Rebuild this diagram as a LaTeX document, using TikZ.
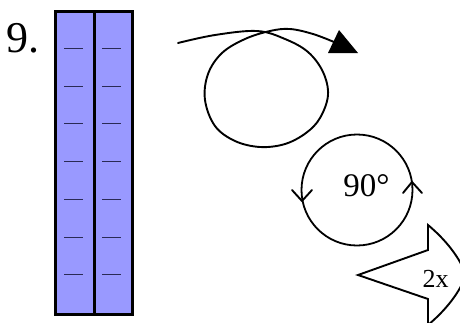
\documentclass[tikz,border=0pt]{standalone}
\usepackage{fontspec}
\setmainfont{Liberation Serif}
\definecolor{barfill}{HTML}{9999FF}
\definecolor{tickcol}{HTML}{2A2A55}
\begin{document}
\begin{tikzpicture}[x=1pt,y=-1pt,
  outline/.style={line width=3pt,line join=miter},
  tickline/.style={line width=1pt,draw=tickcol},
  thinline/.style={line width=1.9pt,line cap=round,line join=round},
  lbl/.style={inner sep=0pt,outer sep=0pt}]
\useasboundingbox (0,0) rectangle (460,322);
\clip (0,0) rectangle (460,322);
% number
\node[lbl,anchor=base west] (num) at (6,52) {\fontsize{44}{44}\selectfont 9.};
% bar
\node[draw,outline,fill=barfill,minimum width=77pt,minimum height=303pt,inner sep=0pt,anchor=north west] (bar) at (54,10) {};
\draw[outline] (bar.north) -- (bar.south);
\foreach \y in {48,86,123,161,199,237,274}{
  \draw[tickline] (64,\y) -- (83,\y);
  \draw[tickline] (102,\y) -- (121,\y);
}
% loop curve
\draw[thinline] plot[smooth,tension=0.6] coordinates {
 (178,43) (215,35) (257,31) (285,39) (308,52) (323,72) (328,95) (320,118) (306,133) (285,144) (260,147)
 (235,141) (215,126) (205,100) (208,74) (222,53) (245,39) (270,31) (290,29) (313,34) (334,42)};
\fill (358,53) -- (339,30) -- (328,53) -- cycle;
% rotation circle
\node[draw,circle,line width=1.8pt,minimum size=111pt,inner sep=0pt] (rot) at (357,190) {};
\node[lbl] (deg) at (366.5,185.5) {\fontsize{33}{33}\selectfont 90°};
\draw[thinline] (292,190) -- (302,201) -- (312,190);
\draw[thinline] (403,193) -- (412,182) -- (422,193);
% block arrow
\draw[thinline,line join=miter] (358,275) -- (428,250) -- (428,225)
  .. controls (446,240) and (460,258) .. (466,275)
  .. controls (460,292) and (446,310) .. (428,325) -- (428,299) -- cycle;
\node[lbl] (twox) at (435.5,279) {\fontsize{26}{26}\selectfont 2x};
\end{tikzpicture}
\end{document}
